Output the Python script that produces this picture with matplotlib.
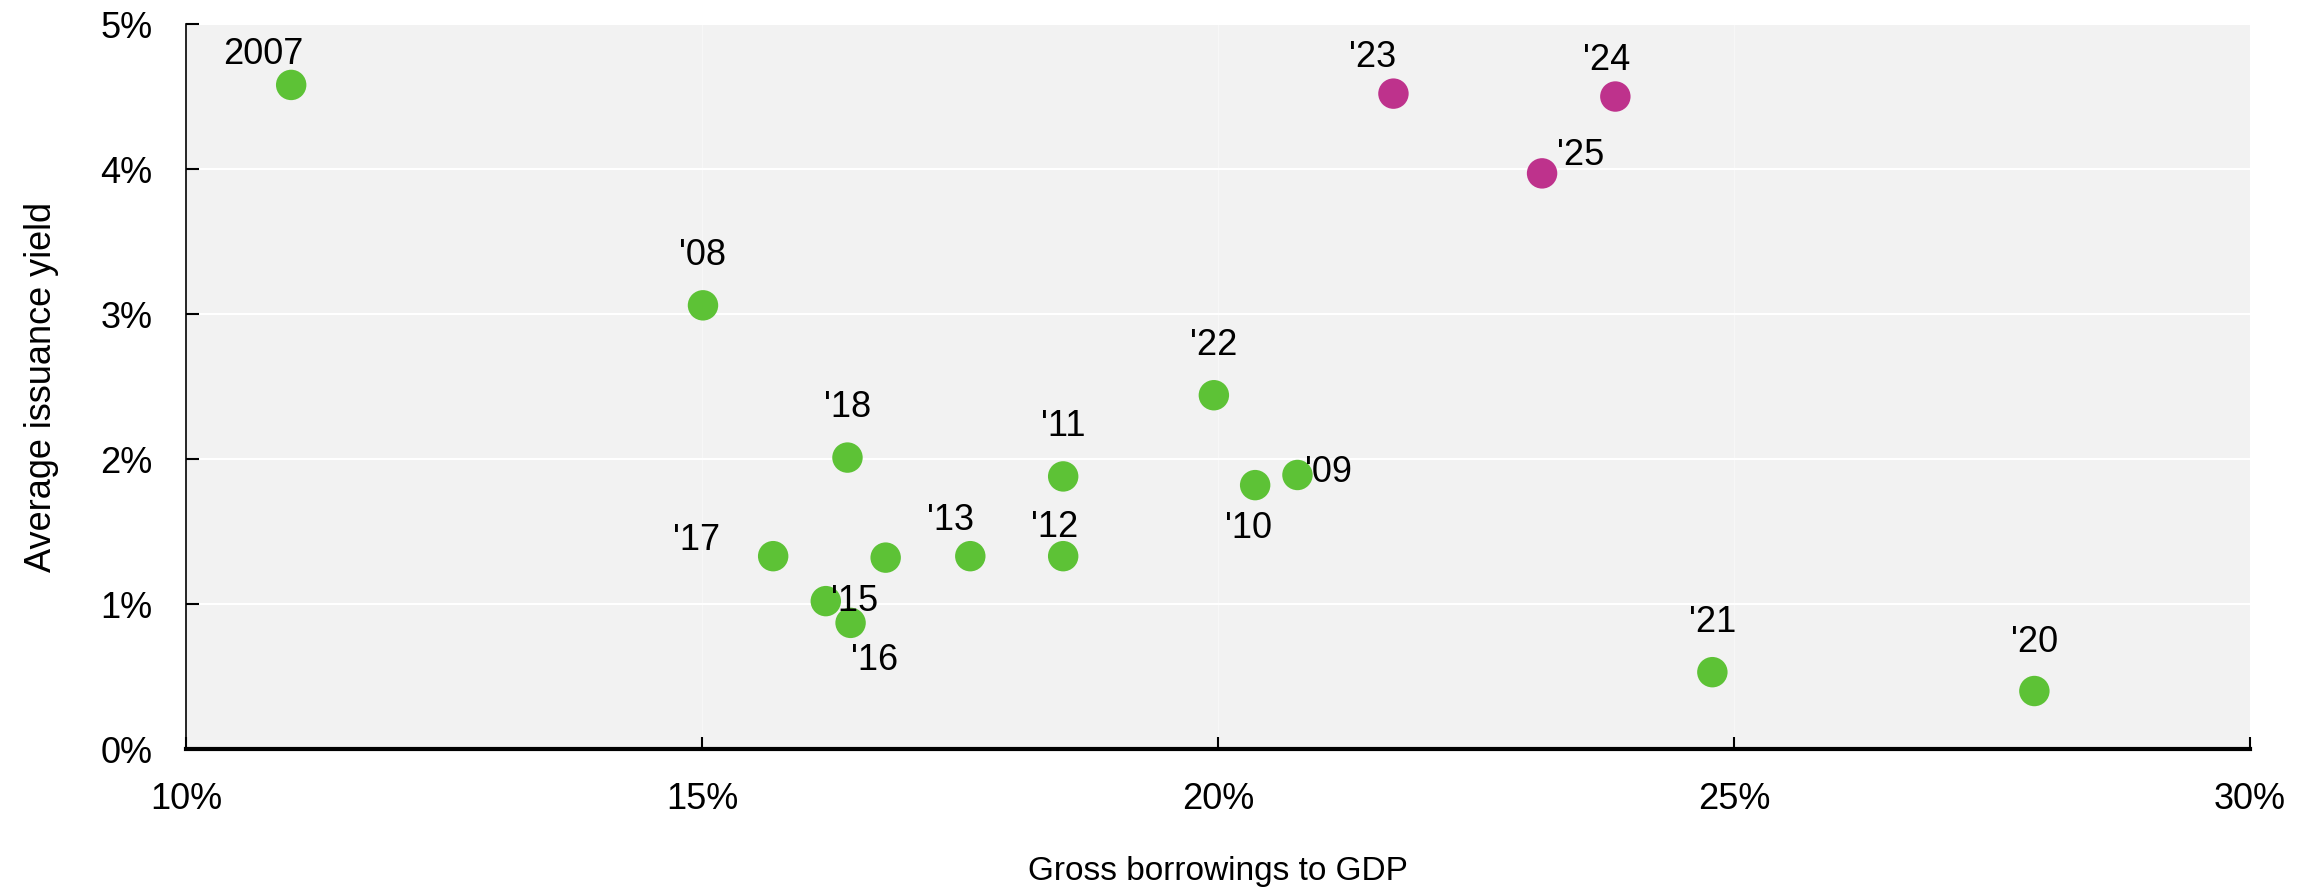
#!/usr/bin/env python3

import matplotlib; matplotlib.use('Agg')
from matplotlib import pyplot as plt
from matplotlib.ticker import FuncFormatter

############## DATA ################

# Gross borrowings to GDP (%) and average issuance yield (%)
labels = ['2007', "'08", "'09", "'10", "'11", "'12", "'13", '', "'15", "'16",
          "'17", "'18", "'20", "'21", "'22", "'23", "'24", "'25"]
borrowing = [11.02, 15.01, 20.77, 20.36, 18.50, 18.50, 17.60, 16.78, 16.20, 16.44,
             15.69, 16.41, 27.91, 24.79, 19.96, 21.70, 23.85, 23.14]
yields = [4.58, 3.06, 1.89, 1.82, 1.88, 1.33, 1.33, 1.32, 1.02, 0.87,
          1.33, 2.01, 0.40, 0.53, 2.44, 4.52, 4.50, 3.97]
projected = ["'23", "'24", "'25"]

# label offsets in points (dx, dy)
offsets = {'2007': (-20, 22), "'08": (0, 36), "'09": (22, 2), "'10": (-5, -31),
           "'11": (0, 36), "'12": (-6, 21), "'13": (-14, 26), '': (0, 0),
           "'15": (21, 0), "'16": (17, -27), "'17": (-55, 11), "'18": (0, 36),
           "'20": (0, 35), "'21": (0, 36), "'22": (0, 36), "'23": (-15, 26),
           "'24": (-6, 26), "'25": (28, 13)}

green = '#5DC236'
magenta = '#BE328C'
narrow = ['Liberation Sans Narrow', 'Liberation Sans', 'DejaVu Sans']
regular = ['Liberation Sans', 'DejaVu Sans']

fig = plt.figure(figsize=(23.18, 8.9), dpi=100)
ax = fig.add_axes([0.0802, 0.1584, 0.8905, 0.8146])
ax.set_facecolor('#F2F2F2')

colors = [magenta if l in projected else green for l in labels]
ax.scatter(borrowing, yields, s=480, c=colors, linewidths=0, zorder=3)

for l, x, y in zip(labels, borrowing, yields):
    if l == '': continue
    ax.annotate(l, (x, y), xytext=offsets[l], textcoords='offset points',
                ha='center', va='center', fontsize=26, family=narrow)

ax.set_xlim(10, 30)
ax.set_ylim(0, 5)
ax.set_xticks([10, 15, 20, 25, 30])
ax.set_yticks([0, 1, 2, 3, 4, 5])
pct = FuncFormatter(lambda v, p: '{:.0f}%'.format(v))
ax.xaxis.set_major_formatter(pct)
ax.yaxis.set_major_formatter(pct)
for t in ax.get_xticklabels() + ax.get_yticklabels():
    t.set_family(narrow)
    t.set_fontsize(26)

ax.tick_params(axis='both', direction='in', length=9, width=1.5, pad=24)
ax.grid(axis='y', color='white', linewidth=1.5, zorder=0)
ax.grid(axis='x', color='#F7F7F7', linewidth=1.0, zorder=0)
ax.set_axisbelow(True)

for s in ['top', 'right']:
    ax.spines[s].set_visible(False)
ax.spines['left'].set_linewidth(1.2)
ax.spines['bottom'].set_linewidth(3)

ax.set_xlabel('Gross borrowings to GDP', fontsize=24, family=regular, labelpad=28)
ax.set_ylabel('Average issuance yield', fontsize=26, family=regular, labelpad=30)

plt.savefig('out.png', dpi=100)
plt.close()
